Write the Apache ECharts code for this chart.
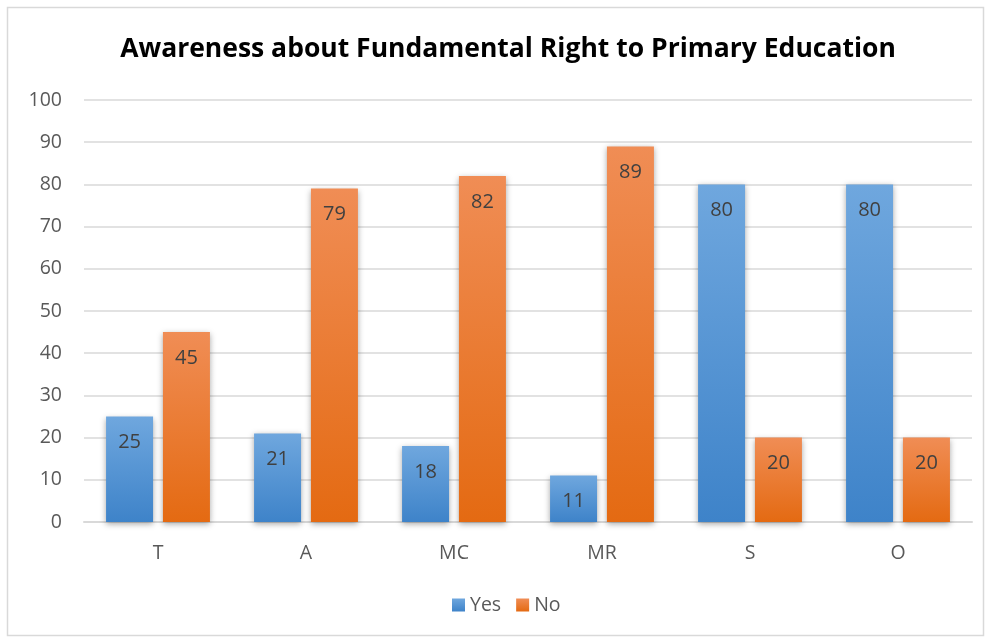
<!DOCTYPE html>
<html>
<head>
<meta charset="utf-8">
<script src="https://cdn.jsdelivr.net/npm/echarts@6/dist/echarts.min.js"></script>
<style>
  html, body { margin: 0; padding: 0; background: #ffffff; }
  #chart { width: 988px; height: 642px; }
</style>
</head>
<body>
<div id="chart"></div>
<script>
// Survey groups along the x axis
const categories = ['T', 'A', 'MC', 'MR', 'S', 'O'];
// Percentage of respondents aware / not aware
const yesValues = [25, 21, 18, 11, 80, 80];
const noValues = [45, 79, 82, 89, 20, 20];
// Value axis ticks
const yTicks = [0, 10, 20, 30, 40, 50, 60, 70, 80, 90, 100];

const FONT = '"Open Sans", Lato, sans-serif';

function grad(top, bottom) {
  return new echarts.graphic.LinearGradient(0, 0, 0, 1, [
    { offset: 0, color: top },
    { offset: 1, color: bottom }
  ]);
}

const labelStyle = {
  show: true,
  position: 'insideTop',
  distance: 16,
  color: '#404040',
  fontSize: 20,
  fontFamily: FONT
};

const chart = echarts.init(document.getElementById('chart'), null, { renderer: 'canvas' });
chart.setOption({
  backgroundColor: '#ffffff',
  animation: false,
  graphic: [{
    type: 'rect',
    shape: { x: 7.5, y: 7.5, width: 976, height: 628 },
    style: { fill: 'none', stroke: '#d9d9d9', lineWidth: 1.5 },
    silent: true
  }],
  title: {
    text: 'Awareness about Fundamental Right to Primary Education',
    left: 503,
    textAlign: 'center',
    top: 31,
    textStyle: { fontFamily: FONT, fontWeight: 'bold', fontSize: 26.5, color: '#000000' }
  },
  legend: {
    bottom: 22,
    left: 447,
    itemWidth: 13,
    itemHeight: 13,
    itemGap: 15,
    icon: 'rect',
    textStyle: { fontFamily: FONT, fontSize: 19.5, color: '#595959', padding: [0, 0, 0, 0] },
    data: ['Yes', 'No']
  },
  grid: { left: 84, right: 16, top: 100, bottom: 120, containLabel: false },
  xAxis: {
    type: 'category',
    data: categories,
    axisTick: { show: false },
    axisLine: { lineStyle: { color: '#d9d9d9', width: 2 } },
    axisLabel: { color: '#595959', fontSize: 19.5, fontFamily: FONT, margin: 21 }
  },
  yAxis: {
    type: 'value',
    min: yTicks[0],
    max: yTicks[yTicks.length - 1],
    interval: 10,
    axisLine: { show: false },
    axisTick: { show: false },
    splitLine: { lineStyle: { color: '#d9d9d9', width: 1.5 } },
    axisLabel: { color: '#595959', fontSize: 19.5, fontFamily: FONT, margin: 22 }
  },
  series: [
    {
      name: 'Yes',
      type: 'bar',
      data: yesValues,
      barWidth: 47,
      barGap: '21%',
      itemStyle: {
        color: grad('#6fa7de', '#3e83c9'),
        shadowBlur: 6,
        shadowColor: 'rgba(0,0,0,0.35)',
        shadowOffsetY: 2
      },
      label: labelStyle
    },
    {
      name: 'No',
      type: 'bar',
      data: noValues,
      barWidth: 47,
      itemStyle: {
        color: grad('#f08d55', '#e46a12'),
        shadowBlur: 6,
        shadowColor: 'rgba(0,0,0,0.35)',
        shadowOffsetY: 2
      },
      label: labelStyle
    }
  ]
});
</script>
</body>
</html>
